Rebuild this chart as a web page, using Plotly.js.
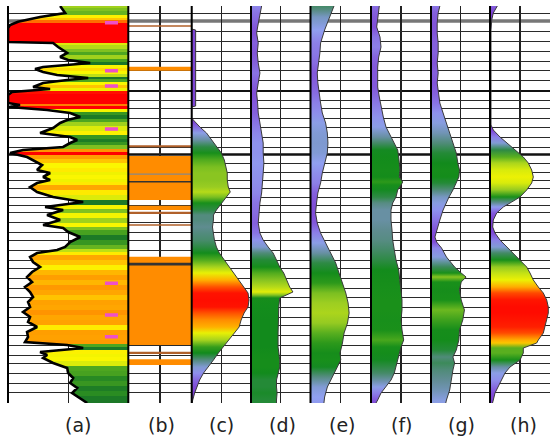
<!DOCTYPE html>
<html><head><meta charset="utf-8">
<script src="https://cdn.plot.ly/plotly-3.0.1.min.js"></script>
<style>html,body{margin:0;padding:0;background:#fff}#chart{width:550px;height:439px}</style>
</head><body><div id="chart"></div>
<script>
// ---------------- DATA (depth = arbitrary depth units) ----------------
const trackLabels = ['(a)','(b)','(c)','(d)','(e)','(f)','(g)','(h)'];

// horizontal reference lines (depth marks)
const gridDepths = [13.3,31.7,41.7,51.7,61.7,70,80,100,108,118,127,137,147,163,172,180,188,197,205,212,222,232,240,250,260,268,278,288,297,307,317,325,335,345,355,363,373,383,392,402];
const majorDepths = [21,91,154.5];

// track (a): log curve (fill width measured from the right edge)
const aDepth = [6,10,13,17,18.3,21.7,25,28,42,43,47,50,53,57,60,63,67,69,72,75,78,80,83,87,89,92,95,103,105,107,110,113,117,120,123,128,133,137,140,143,147,150,153,157,160,165,170,173,177,180,183,187,192,197,202,207,210,215,220,225,228,232,237,242,247,250,253,257,262,267,272,277,282,287,292,297,302,307,312,317,322,327,332,337,342,345,348,352,355,358,363,368,373,378,383,388,393,398,403];
const aValue = [68,65,63,88,95,110,118,120,120,75,70,65,61,68,60,38,85,93,85,71,40,61,85,95,78,116,120,120,108,119,81,58,48,61,68,75,88,58,51,58,65,105,118,101,95,86,91,78,85,78,91,98,91,75,45,83,65,81,68,85,65,60,48,58,63,71,91,98,95,88,96,101,96,103,98,95,100,98,105,98,100,91,101,100,103,61,45,88,81,85,75,61,60,55,58,51,56,48,41];
const aFlagDepths = [22.7,70.7,86,129,283.3,315,336.7];

// track (b): interval flags
const bTop  = [25.3,66.7,145.2,156,173.6,181,205.7,211.8,224.2,256.7,262.8,351.7,359.3];
const bBase = [26.8,70.7,147.2,200,174.8,182.6,210,214,225.8,345,265.5,354,365];
const bType = ['B','O','B','O','G','K','O','B','B','O','K','B','O'];

// tracks (c)-(h)
const cDepth = [6,29,30,106,107,118,120,127,133,140,147,153,160,167,173,180,187,192,197,203,210,215,220,227,233,240,247,253,260,267,273,280,287,293,300,307,313,320,327,333,340,347,353,360,367,373,380,387,393,400,403];
const cValue = [0,0,4,4,0,0,1.7,8.3,15,20,25,30,33,35,36,36,37,39,35,30,25,22,22,21,22,23,25,28,33,38,43,48,53,57,58,57,53,50,48,43,38,32,27,22,17,12,8,5,3,1,0.5];
const dDepth = [6,13,20,27,33,43,53,63,73,83,93,103,113,123,133,143,153,163,173,183,193,203,213,223,233,240,247,253,260,267,273,280,287,292,295,298,307,320,333,347,353,360,367,373,380,387,393,400,403];
const dValue = [10.7,9,8,6.7,5.7,7.3,6.3,7.3,9,7.3,5.7,6.7,7.3,9,10.7,12.3,12.3,13,12.3,11.7,10.7,9,8.3,7.3,9,12.3,17.3,22.3,25.7,29,33,35.7,39,42.3,35.7,29,28,27.3,27.3,27.3,28.3,29,29,27.3,25.7,25.7,26.3,25.7,25.7];
const eDepth = [6,10,17,23,30,37,43,53,63,73,83,93,103,113,123,133,143,153,163,173,183,193,203,213,223,233,243,253,263,273,283,293,303,313,323,333,343,353,360,367,377,387,397,403];
const eValue = [23.3,21.7,18.3,16.7,14,11.7,10,9.3,8.3,6.7,7.3,8.3,10,11.7,15,16.7,17.3,16.7,14,11.7,10,7.3,6,5,6.7,10,15,20,25,28.3,31.7,35,37.3,38.3,36.7,33.3,31.7,29.3,30,26.7,21.7,16.7,14,13.3];
const fDepth = [6,17,27,37,47,57,67,77,87,97,107,117,127,137,143,150,157,163,170,177,182,185,190,197,203,210,220,230,240,250,260,270,280,290,300,310,320,330,340,347,353,360,367,373,380,387,393,400,403];
const fValue = [8.3,6.7,5.7,9,10,7.7,6.7,6.7,6.7,8.3,10,12.3,15,20,23.3,26.7,27.7,28.3,29,28.3,31.7,30,26.7,25,21.7,20,20,21,21.7,23.3,25,27.7,29,30,31,31,30,31,32.7,30,28.3,26.7,25,23.3,20,15,10,6.7,5];
const gDepth = [6,13,23,33,43,53,63,73,83,93,103,113,123,133,143,153,163,170,177,183,190,197,203,210,220,230,237,242,248,257,267,273,277,282,290,300,310,320,330,340,350,357,363,370,380,390,400,403];
const gValue = [9,7.3,6.3,6.3,7.3,7.3,6.3,7.3,6.3,7.3,9,12.3,15.7,19,22.3,25.7,27.3,29,28.3,25.7,22.3,18.3,15.7,12.3,9,6.3,4,5.7,10.7,15.7,24,30.7,35.7,30.7,29,30.7,34,32.3,29,28.3,25.7,22.3,24,22.3,20.7,19,15.7,15];
const hDepth = [6,13,20,30,125,130,137,143,150,157,163,170,177,183,190,197,202,207,213,220,227,233,240,247,253,260,267,273,280,287,293,300,307,313,320,327,333,340,343,348,353,360,367,373,380,387,393,400,403];
const hValue = [7.3,3.3,1.7,1,1,3.3,10,16.7,25,33.3,38.3,41.7,43.3,41.7,36.7,30,21.7,13.3,6.7,3.3,2.7,5,10,16.7,23.3,30,36.7,40,43.3,48.3,53.3,56.7,58.3,58.3,56.7,55,53.3,48.3,46.7,33.3,33.3,30,20,15,11.7,8.3,5,3.3,2.5];

// ---------------- STYLE ----------------
const W = 550, H = 439, ML = 8, MR = 0, MT = 6, MB = 36;
const trackEdges = [8,128.3,191.7,251,310.5,371,431,490,550]; // pixel layout of tracks
const labelPos = [0.58,0.53,0.5,0.53,0.53,0.52,0.52,0.55];
const scaleA = [[0,'#1a6e2c'],[50,'#1c7a26'],[56,'#2a8c22'],[61,'#4ea620'],[66,'#8cc820'],[72,'#c8e414'],[78,'#f0f200'],[86,'#fbf600'],[92,'#ffe800'],[95,'#ffc400'],[97,'#ffa800'],[105,'#ff9400'],[111,'#ff6800'],[115,'#ff2000'],[117,'#ff0000'],[120,'#ff0000']];
const scaleC = [[0,'#7a2fd0'],[6,'#8050d8'],[10,'#8c80e8'],[14,'#90a0f0'],[18,'#7a98c8'],[21,'#5f8c90'],[24,'#3c8a5a'],[27,'#118a1c'],[31,'#1a901a'],[34,'#6cb820'],[37,'#99cc22'],[41,'#d0e810'],[44,'#f4f400'],[48,'#ffb000'],[52,'#ff6a00'],[55,'#ff2000'],[60,'#ff0000']];
const flagColors = {O:'#ff8c00', B:'#b0602a', K:'#333333', G:'#888888'};
const majorStyle = [{c:'#777',w:3.5},{c:'#111',w:2},{c:'#111',w:2.5}];
const FLAG_W0 = 10.3, FLAG_W1 = 23.3;

function hex2rgb(h){h=h.replace('#','');if(h.length===3)h=h.split('').map(c=>c+c).join('');return [0,2,4].map(i=>parseInt(h.substr(i,2),16));}
function colorAt(scale,v){
  if(v<=scale[0][0]) return 'rgb('+hex2rgb(scale[0][1]).join(',')+')';
  for(let i=1;i<scale.length;i++){
    if(v<=scale[i][0]){
      const t=(v-scale[i-1][0])/(scale[i][0]-scale[i-1][0]);
      const a=hex2rgb(scale[i-1][1]), b=hex2rgb(scale[i][1]);
      return 'rgb('+a.map((x,k)=>Math.round(x+(b[k]-x)*t)).join(',')+')';
    }
  }
  return 'rgb('+hex2rgb(scale[scale.length-1][1]).join(',')+')';
}
function clamp01(x){return Math.max(0,Math.min(1,x));}
function smoothStops(depth,val,scale){
  const d0=depth[0], d1=depth[depth.length-1];
  const s=depth.map((d,i)=>[clamp01((d-d0)/(d1-d0)),colorAt(scale,val[i])]);
  s[0][0]=0; s[s.length-1][0]=1; return s;
}
function stripeStops(depth,val,scale){
  const n=depth.length, d0=depth[0], d1=depth[n-1], out=[];
  for(let i=0;i<n;i++){
    const lo=i===0?d0:(depth[i-1]+depth[i])/2, hi=i===n-1?d1:(depth[i]+depth[i+1])/2;
    const c=colorAt(scale,val[i]);
    out.push([clamp01((lo-d0)/(d1-d0)),c],[clamp01((hi-d0)/(d1-d0)),c]);
  }
  out[0][0]=0; out[out.length-1][0]=1; return out;
}
function axName(i){return i===0?'x':'x'+(i+1);}

const traces=[];
// (a)
traces.push({type:'scatter',mode:'lines',x:aValue,y:aDepth,xaxis:'x',yaxis:'y',
  line:{color:'#000',width:2.6},fill:'tozerox',
  fillgradient:{type:'vertical',start:aDepth[0],stop:aDepth[aDepth.length-1],colorscale:stripeStops(aDepth,aValue,scaleA)},
  hoverinfo:'skip',showlegend:false});
const fx=[],fy=[];
aFlagDepths.forEach(d=>{fx.push(FLAG_W0,FLAG_W1,null);fy.push(d,d,null);});
traces.push({type:'scatter',mode:'lines',x:fx,y:fy,xaxis:'x',yaxis:'y',line:{color:'#ee50c8',width:3.5},hoverinfo:'skip',showlegend:false});
// (b)
['O','G','K','B'].forEach(t=>{
  const ys=[],ws=[],xs=[];
  bType.forEach((bt,i)=>{if(bt===t){ys.push((bTop[i]+bBase[i])/2);ws.push(bBase[i]-bTop[i]);xs.push(60);}});
  traces.push({type:'bar',orientation:'h',x:xs,y:ys,width:ws,xaxis:'x2',yaxis:'y',
    marker:{color:flagColors[t],line:{width:0}},hoverinfo:'skip',showlegend:false});
});
// (c)-(h)
const sets=[[cDepth,cValue],[dDepth,dValue],[eDepth,eValue],[fDepth,fValue],[gDepth,gValue],[hDepth,hValue]];
sets.forEach((s,k)=>{
  traces.push({type:'scatter',mode:'lines',x:s[1],y:s[0],xaxis:axName(k+2),yaxis:'y',
    line:{color:'#3a3a3a',width:1},fill:'tozerox',
    fillgradient:{type:'vertical',start:s[0][0],stop:s[0][s[0].length-1],colorscale:smoothStops(s[0],s[1],scaleC)},
    hoverinfo:'skip',showlegend:false});
});

const plotW=W-ML-MR;
const layout={width:W,height:H,margin:{l:ML,r:MR,t:MT,b:MB,pad:0},
  paper_bgcolor:'#fff',plot_bgcolor:'#fff',showlegend:false,barmode:'overlay',
  yaxis:{domain:[0,1],range:[403,6],anchor:'x',tickvals:gridDepths,showgrid:true,gridcolor:'#2a2a2a',gridwidth:1,
    showticklabels:false,ticks:'',zeroline:false,showline:false,fixedrange:true},
  shapes:[],annotations:[]};
for(let i=0;i<8;i++){
  const key=i===0?'xaxis':'xaxis'+(i+1);
  layout[key]={domain:[(trackEdges[i]-ML)/plotW,(trackEdges[i+1]-ML)/plotW],anchor:'y',
    range:i===0?[120,0]:[0,60],tickvals:i===0?[60]:[30],showgrid:true,gridcolor:'#222',gridwidth:1.3,
    zeroline:false,showline:false,showticklabels:false,ticks:'',fixedrange:true};
  layout.shapes.push({type:'line',xref:axName(i)+' domain',yref:'paper',x0:0,x1:0,y0:0,y1:1,
    line:{color:'#000',width:2},layer:'above'});
  layout.annotations.push({text:trackLabels[i],xref:axName(i)+' domain',yref:'paper',x:labelPos[i],y:-0.0554,
    xanchor:'center',yanchor:'middle',showarrow:false,font:{family:'DejaVu Sans, Arial, sans-serif',size:19,color:'#222'}});
}
majorDepths.forEach((d,i)=>{
  layout.shapes.push({type:'line',xref:'paper',yref:'y',x0:0,x1:1,y0:d,y1:d,
    line:{color:majorStyle[i].c,width:majorStyle[i].w},layer:'below'});
});
Plotly.newPlot('chart',traces,layout,{displayModeBar:false,staticPlot:true});
</script>
</body></html>
